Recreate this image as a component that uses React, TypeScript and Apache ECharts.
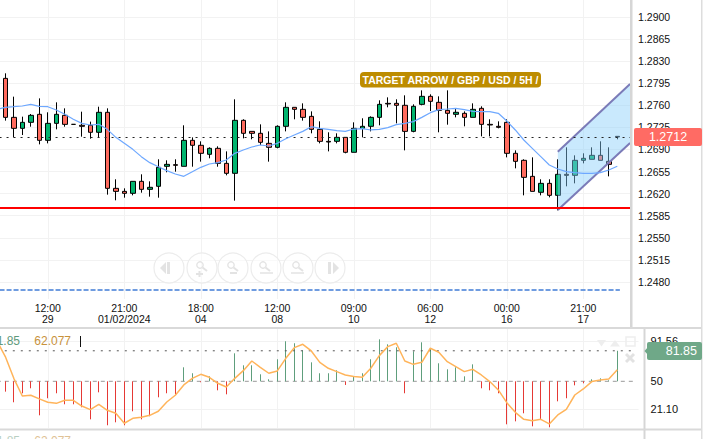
import React, { useEffect, useRef } from "react";
import * as echarts from "echarts";

const opens = [1.28027,1.27409,1.27235,1.2733,1.27457,1.27045,1.27314,1.27441,1.27298,1.27283,
1.27283,1.27172,1.27489,1.26284,1.26236,1.26205,1.26395,1.26268,1.26316,1.26633,
1.26659,1.26633,1.27045,1.26966,1.26823,1.26918,1.2668,1.26522,1.27362,1.27187,
1.27156,1.26997,1.26934,1.27267,1.27568,1.27536,1.27425,1.27219,1.27029,1.27029,
1.27092,1.26855,1.27235,1.27267,1.27409,1.27631,1.27631,1.276,1.27187,1.27615,
1.27742,1.27647,1.2752,1.27457,1.27473,1.27409,1.27552,1.27298,1.27267,1.2733,
1.26839,1.26728,1.26474,1.26221,1.26363,1.26173,1.26506,1.2649,1.26728,1.26744,
1.26807,1.26712,1.27108];
const closes = [1.27409,1.27235,1.2733,1.27441,1.27045,1.27314,1.27457,1.27298,1.27298,1.27267,
1.27172,1.27489,1.26284,1.26236,1.26205,1.26395,1.26268,1.263,1.26617,1.26664,
1.26649,1.27045,1.26966,1.26839,1.26918,1.2668,1.26522,1.27362,1.27156,1.27156,
1.27013,1.26934,1.27267,1.27568,1.27536,1.27409,1.27219,1.27029,1.27018,1.27092,
1.26855,1.27235,1.27267,1.27409,1.27615,1.27621,1.276,1.27187,1.27584,1.27742,
1.27663,1.2752,1.27473,1.27489,1.27409,1.27536,1.27298,1.27288,1.27251,1.26839,
1.26712,1.26458,1.26236,1.26363,1.26173,1.26506,1.2649,1.26728,1.2676,1.26807,
1.26728,1.26664,1.27098];
const lows = [1.27357,1.27092,1.27129,1.27261,1.26981,1.26997,1.27219,1.27261,1.27298,1.27103,
1.27071,1.27092,1.26184,1.26094,1.26136,1.26173,1.26215,1.26152,1.26136,1.26538,
1.26548,1.26633,1.26627,1.26707,1.2676,1.26627,1.2649,1.26089,1.27076,1.27061,
1.26971,1.26707,1.26918,1.27187,1.27378,1.27357,1.27156,1.26997,1.2687,1.26997,
1.26839,1.26855,1.27092,1.27187,1.27283,1.27568,1.27314,1.26886,1.27172,1.276,
1.2751,1.27172,1.27293,1.27409,1.27267,1.27409,1.27108,1.27108,1.27235,1.26775,
1.26601,1.26173,1.26236,1.26173,1.26141,1.25935,1.26316,1.26363,1.2668,1.26744,
1.26728,1.26474,1.27061];
const highs = [1.28107,1.27737,1.2742,1.27462,1.2771,1.27489,1.27647,1.27552,1.27298,1.27499,
1.27341,1.27578,1.27552,1.26427,1.26284,1.26395,1.26506,1.26395,1.26744,1.26728,
1.26744,1.27283,1.27092,1.27029,1.26934,1.2695,1.2687,1.27695,1.27378,1.27187,
1.27298,1.27187,1.27283,1.27647,1.27568,1.27631,1.27504,1.27346,1.27172,1.27156,
1.27092,1.2733,1.27394,1.27425,1.27679,1.27726,1.27695,1.27758,1.27615,1.27837,
1.27774,1.27742,1.27837,1.27552,1.27504,1.27631,1.27584,1.27378,1.27346,1.27378,
1.26886,1.26744,1.26775,1.26427,1.26427,1.26744,1.26934,1.26807,1.26839,1.26934,
1.27029,1.26934,1.27108];
// moving average; first value belongs to the candle just off the left edge
const maLine = [1.27536,1.27568,1.27578,1.27589,1.27615,1.27584,1.27578,1.27526,1.27457,1.27378,
1.27314,1.27288,1.27298,1.27219,1.27092,1.26997,1.26902,1.26786,1.26691,1.26627,
1.26564,1.26511,1.26474,1.26548,1.26617,1.2667,1.26691,1.26733,1.26839,1.26892,
1.26939,1.26971,1.26955,1.26997,1.27071,1.27129,1.27187,1.27261,1.27235,1.27219,
1.27198,1.27187,1.27224,1.2723,1.27209,1.27219,1.27246,1.27293,1.27314,1.27341,
1.27409,1.27483,1.27531,1.27541,1.27552,1.27531,1.27504,1.27499,1.27499,1.27473,
1.27351,1.27209,1.2705,1.26918,1.26786,1.26654,1.2659,1.26548,1.26532,1.26522,
1.26522,1.26532,1.26575,1.26633];
const rsiBars = [39.2,28.1,37.5,42.7,14.5,32.3,37.5,26,26,22.9,
10.3,38.5,4.1,7.2,4.1,18.7,10.3,13.5,33.3,37.5,
36.4,64.6,58.4,49,55.2,40.6,36.4,79.2,66.7,66.7,
57.3,52.1,73,91.8,89.7,82.4,69.8,58.4,58.4,61.5,
46.2,55.2,58.4,73,93.8,88.6,85.5,37.5,81.3,90.7,
84.5,68.8,62.5,64.6,55.2,67.7,42.7,40.6,37.5,5.1,
8.2,16.6,3,10.3,2,29.1,32.3,45.8,47.9,52.1,
53.1,51,81.85];
// signal line; first value belongs to the candle just off the left edge
const signalLine = [92.5,75.8,53.1,34.7,35.4,31.6,28.1,27,30.2,30.2,
24.2,20.4,26,19.7,16.6,6.2,11.4,12.4,14.5,18.7,
28.4,35.4,46.2,53.1,57.3,54.2,47.9,44.1,53.1,61.1,
71.2,64.6,58.4,60.8,74,85.1,88.6,81.7,69.8,63.6,
60.1,56.6,54.9,54.2,63.6,76.8,86.2,89.7,71.2,67.7,
69.8,84.5,80.3,70.5,65.3,60.1,62.5,56.6,49.7,41,
27.7,17.6,10.3,8.9,10.3,5.5,14.9,20.8,35.7,42,
49.7,51.4,52.4,62.077];

const yTicks = [1.29,1.2865,1.283,1.2795,1.276,1.2725,1.269,1.2655,1.262,1.2585,1.255,1.2515,1.248];
const rsiTicks = [21.1,50,91.56];
const timeLabels = ["12:00\n29","21:00\n01/02/2024","18:00\n04","12:00\n08","09:00\n10","06:00\n12","00:00\n16","21:00\n17"];
const labelEvery = 9;
const firstLabelCandle = 5;
const supportLevel = 1.25972;
const lastPrice = 1.27098;
const lowerLevel = 1.24673;
const channelLower = [[65,1.25941],[73.5,1.27003]];
const channelUpper = [[65,1.26865],[73.5,1.27938]];
const lastRsi = 81.85;
const midRsi = 50;

const GREEN = "#00b46e";
const RED = "#ff6b5e";
const FONT = "'Liberation Sans', Arial, sans-serif";

const BAND = 8.5;
const LEFT = -7.45;
const catCount = 75;
const subCatCount = 76;
const categories = Array.from({ length: subCatCount }, (_, i) => {
  const k = (i - 1 - firstLabelCandle) / labelEvery;
  return Number.isInteger(k) && timeLabels[k] ? timeLabels[k] : "";
});
const tickCats = timeLabels.map((_, k) => firstLabelCandle + k * labelEvery + 1);

function ring(cx: number, cy: number) {
  return { type: "circle", z: 20, shape: { cx, cy, r: 15 }, style: { fill: "rgba(255,255,255,0.55)", stroke: "#ececec", lineWidth: 1.2 }, silent: true };
}
function tri(pts: number[][]) {
  return { type: "polygon", z: 21, shape: { points: pts }, style: { fill: "#e3e3e3" }, silent: true };
}
function seg(x1: number, y1: number, x2: number, y2: number, stroke = "#e3e3e3", lineWidth = 1.5, z = 21) {
  return { type: "line", z, shape: { x1, y1, x2, y2 }, style: { stroke, lineWidth }, silent: true };
}
function glass(cx: number, cy: number) {
  return [
    { type: "circle", z: 21, shape: { cx, cy, r: 3.2 }, style: { fill: "none", stroke: "#e3e3e3", lineWidth: 1.3 }, silent: true },
    seg(cx + 2.5, cy + 2.5, cx + 7, cy + 6, "#e3e3e3", 2),
  ];
}
function rect(x: number, y: number, width: number, height: number, fill: string, z = 30, r = 0) {
  return { type: "rect", z, shape: { x, y, width, height, r }, style: { fill }, silent: true };
}
function label(text: string, x: number, y: number, fill: string, fontSize: number, align = "left", fontWeight = "normal", z = 32) {
  return { type: "text", z, x, y, style: { text, fill, fontSize, fontFamily: FONT, align, verticalAlign: "middle", fontWeight }, silent: true };
}

const graphicElements: any[] = [
  // panel frame
  rect(630, 0, 2.5, 327, "#d6d6d6"),
  rect(0, 327, 702, 2, "#d9d9d9"),
  rect(0, 428.5, 702, 2, "#d9d9d9"),
  rect(643.5, 329, 2, 100, "#d6d6d6"),
  rect(643.5, 430, 2, 9, "#d6d6d6"),
  rect(701, 0, 1.5, 439, "#dddddd"),
  // navigation buttons
  ring(169, 268), ring(202, 268), ring(233, 268), ring(266, 268), ring(298, 268), ring(330, 268),
  tri([[166, 262], [166, 274], [160, 268]]), rect(167, 262, 3, 12, "#e3e3e3", 21),
  ...glass(200, 265), seg(196, 274, 203, 274, "#e3e3e3", 2), seg(199.5, 271, 199.5, 277, "#e3e3e3", 2),
  ...glass(231, 265), seg(230, 273, 237, 273, "#e3e3e3", 2),
  ...glass(263, 265), seg(260, 273, 273, 273),
  ...glass(296, 265), seg(291, 273, 304, 273),
  tri([[333, 262], [333, 274], [339, 268]]), rect(328, 262, 3, 12, "#e3e3e3", 21),
  // annotation
  rect(360, 72, 181, 15.5, "#bd8c00", 30, 4),
  label("TARGET ARROW / GBP / USD / 5H /", 450.5, 80, "#ffffff", 10.5, "center", "bold"),
  // price pill
  rect(634, 128, 68, 18, "#ff6b64", 30, 2),
  label("1.2712", 668, 137, "#ffffff", 12.5, "center"),
  // indicator pill
  { type: "polygon", z: 30, shape: { points: [[644.5, 351], [648, 347], [648, 355]] }, style: { fill: "#6fa888" }, silent: true },
  rect(647, 342, 55, 18, "#6fa888", 30, 2),
  label("81.85", 697, 351, "#ffffff", 12.5, "right"),
  // indicator legend
  label("81.85", 20, 341, "#5f9a7c", 12, "right"),
  label("62.077", 34.3, 341, "#c8923c", 12),
  seg(80.5, 336, 80.5, 347, "#111", 1, 32),
  label("81.85", 20, 441, "#b9cfc2", 12, "right"),
  label("62.077", 34.3, 441, "#e0c296", 12),
  // indicator panel icons
  { type: "polygon", z: 22, shape: { points: [[597, 340], [606, 340], [601.5, 346.5]] }, style: { fill: "#eeeeee" }, silent: true },
  { type: "polygon", z: 22, shape: { points: [[610, 346.5], [620, 346.5], [615, 340]] }, style: { fill: "#eeeeee" }, silent: true },
  { type: "rect", z: 22, shape: { x: 626, y: 337, width: 9, height: 9 }, style: { fill: "none", stroke: "#eeeeee", lineWidth: 1.5 }, silent: true },
  seg(626, 354, 634, 362, "#e2e2e2", 3, 22),
  seg(634, 354, 626, 362, "#e2e2e2", 3, 22),
];

const option: any = {
  animation: false,
  backgroundColor: "#ffffff",
  textStyle: { fontFamily: FONT },
  grid: [
    { left: LEFT, top: 0, width: BAND * catCount, height: 299, outerBoundsMode: "none" },
    { left: LEFT, top: 329, width: BAND * subCatCount, height: 99, outerBoundsMode: "none" },
  ],
  xAxis: [
    {
      type: "category", gridIndex: 0, data: categories.slice(0, catCount),
      axisLine: { show: false }, axisTick: { show: false }, splitLine: { show: false },
      axisLabel: { interval: 0, color: "#111", fontSize: 10.5, lineHeight: 11, margin: 3, fontFamily: FONT },
    },
    { type: "value", gridIndex: 0, min: -1.5, max: 73.5, show: false, splitLine: { show: false } },
    {
      type: "category", gridIndex: 1, data: categories,
      axisLine: { show: false }, axisTick: { show: false }, axisLabel: { show: false }, splitLine: { show: false },
    },
  ],
  yAxis: [
    {
      type: "value", gridIndex: 0, position: "right", min: 1.2453, max: 1.29269, scale: true,
      axisLine: { show: false }, axisTick: { show: false }, splitLine: { show: false },
      axisLabel: { customValues: yTicks, formatter: (v: number) => v.toFixed(4), color: "#111", fontSize: 10.5, margin: 8, fontFamily: FONT },
    },
    {
      type: "value", gridIndex: 1, position: "right", min: 1.25, max: 104.59,
      axisLine: { show: false }, axisTick: { show: false }, splitLine: { show: false },
      axisLabel: { customValues: rsiTicks, formatter: (v: number) => (v === 50 ? "50" : v.toFixed(2)), color: "#111", fontSize: 11, margin: 12, fontFamily: FONT },
    },
  ],
  graphic: { elements: graphicElements },
  series: [
    {
      type: "candlestick", xAxisIndex: 0, yAxisIndex: 0, z: 3, barWidth: 5,
      itemStyle: { color: GREEN, color0: RED, borderColor: "#000", borderColor0: "#000", borderColorDoji: "#000", borderWidth: 1 },
      data: [["-", "-", "-", "-"], ...opens.map((o, i) => [o, closes[i], lows[i], highs[i]])],
      markLine: {
        silent: true, symbol: "none", z: 1, animation: false, precision: 5, label: { show: false },
        lineStyle: { color: "#f2f2f2", width: 1, type: "solid" },
        data: [...yTicks.map((v) => ({ yAxis: v })), ...tickCats.map((c) => ({ xAxis: c }))],
      },
    },
    {
      type: "custom", xAxisIndex: 1, yAxisIndex: 0, z: 4, clip: true,
      data: [channelLower[0]],
      renderItem: (_: any, api: any) => {
        const c = (p: number[]) => api.coord(p);
        const poly = [c(channelLower[0]), c(channelLower[1]), c(channelUpper[1]), c(channelUpper[0])];
        return {
          type: "group",
          children: [
            { type: "polygon", shape: { points: poly }, style: { fill: "rgba(135,206,250,0.45)" } },
            { type: "line", shape: { x1: poly[0][0], y1: poly[0][1], x2: poly[1][0], y2: poly[1][1] }, style: { stroke: "#7b7bb8", lineWidth: 2 } },
            { type: "line", shape: { x1: poly[3][0], y1: poly[3][1], x2: poly[2][0], y2: poly[2][1] }, style: { stroke: "#7b7bb8", lineWidth: 2 } },
          ],
        };
      },
    },
    {
      type: "line", xAxisIndex: 0, yAxisIndex: 0, z: 5, symbol: "none",
      data: maLine, lineStyle: { color: "#6ea8ff", width: 1.2 },
      markLine: {
        silent: true, symbol: "none", animation: false, precision: 5, label: { show: false },
        data: [
          { yAxis: supportLevel, lineStyle: { color: "#ff0000", width: 2, type: "solid" } },
          { yAxis: lastPrice, lineStyle: { color: "#222", width: 1, type: [2, 5] } },
        ],
      },
    },
    {
      type: "line", xAxisIndex: 1, yAxisIndex: 0, z: 5, symbol: "none",
      data: [[-1.5, lowerLevel], [72.3, lowerLevel]],
      lineStyle: { color: "#6f9ce0", width: 2, type: [5, 2] },
    },
    {
      type: "custom", xAxisIndex: 2, yAxisIndex: 1, z: 3,
      data: rsiBars.map((v, i) => [i + 1, v]),
      renderItem: (_: any, api: any) => {
        const v = api.value(1);
        const a = api.coord([api.value(0), midRsi]);
        const b = api.coord([api.value(0), v]);
        const x = Math.floor(a[0]) + 0.5;
        return {
          type: "line",
          shape: { x1: x, y1: a[1], x2: x, y2: b[1] },
          style: { stroke: v >= midRsi ? "#5e9e7c" : "#e53935", lineWidth: 1 },
        };
      },
    },
    {
      type: "line", xAxisIndex: 2, yAxisIndex: 1, z: 5, symbol: "none",
      data: signalLine, lineStyle: { color: "#ffb45a", width: 1.5 },
      markLine: {
        silent: true, symbol: "none", z: 1, animation: false, precision: 5, label: { show: false },
        lineStyle: { color: "#f2f2f2", width: 1, type: "solid" },
        data: [...rsiTicks.filter((v) => v !== midRsi).map((v) => ({ yAxis: v })), ...tickCats.map((c) => ({ xAxis: c }))],
      },
    },
    {
      type: "line", xAxisIndex: 2, yAxisIndex: 1, z: 4, symbol: "none",
      data: [[0, lastRsi], [75, lastRsi]], lineStyle: { color: "#555", width: 1, type: [2, 6] },
    },
    {
      type: "line", xAxisIndex: 2, yAxisIndex: 1, z: 2, symbol: "none",
      data: [[0, midRsi], [75, midRsi]], lineStyle: { color: "#999", width: 1, type: [4, 4] },
    },
  ],
};

export default function App() {
  const ref = useRef<HTMLDivElement>(null);
  useEffect(() => {
    document.body.style.margin = "0";
    document.body.style.overflow = "hidden";
    const chart = echarts.init(ref.current!, undefined, { renderer: "svg" });
    chart.setOption(option);
    return () => chart.dispose();
  }, []);
  return <div ref={ref} style={{ width: 716, height: 439 }} />;
}
